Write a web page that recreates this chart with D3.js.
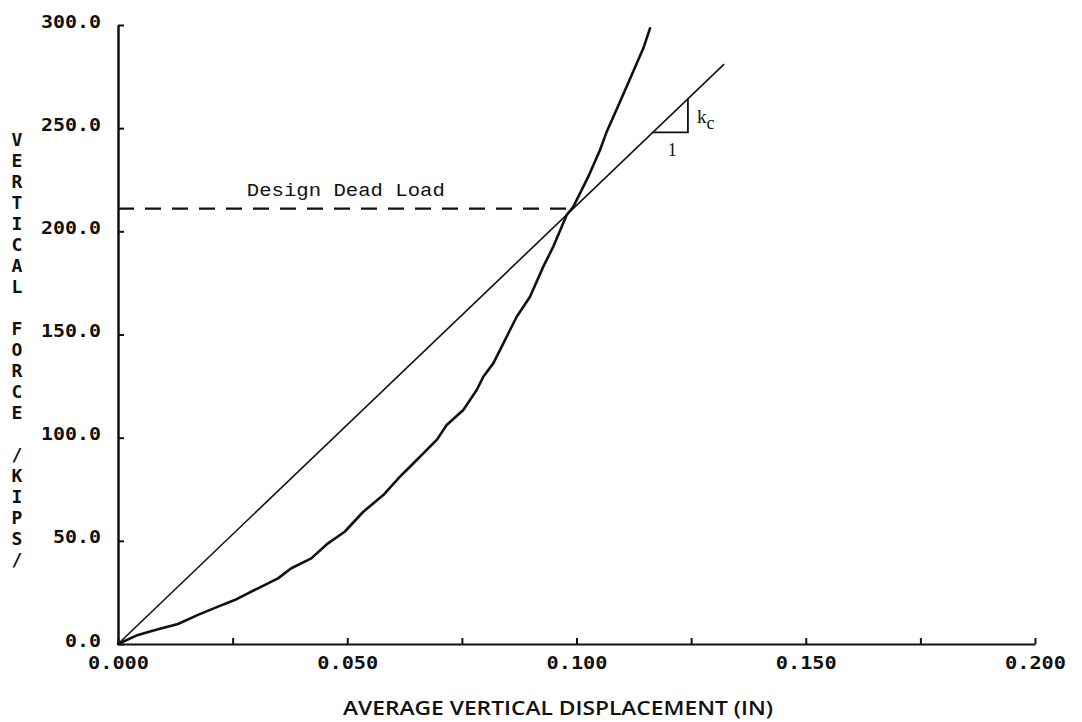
<!DOCTYPE html>
<html>
<head>
<meta charset="utf-8">
<script src="https://cdn.jsdelivr.net/npm/d3@7"></script>
<style>
  body { margin: 0; background: #fff; }
  svg { display: block; }
</style>
</head>
<body>
<script>
// gemeten waarden uit de plot (verplaatsing in inch, kracht in kips)
var dispX = [0, 0.00436, 0.00872, 0.01309, 0.01745, 0.02181, 0.02545, 0.03053, 0.03490,
             0.03780, 0.04216, 0.04580, 0.04944, 0.05350, 0.05786, 0.06150, 0.06369,
             0.06659, 0.06951, 0.07169, 0.07531, 0.07823, 0.07967, 0.08185, 0.08369,
             0.08550, 0.08696, 0.08986, 0.09276, 0.09494, 0.09677, 0.09786, 0.09930,
             0.10076, 0.10257, 0.10513, 0.10659, 0.10949, 0.11204, 0.11457, 0.11603];
var forceY = [0, 4.4, 7.1, 9.7, 14.1, 18.1, 21.3, 27.0, 31.8,
              36.7, 41.5, 48.8, 54.4, 64.1, 72.2, 81.1, 85.9,
              92.4, 98.9, 106.1, 113.4, 123.1, 129.5, 136.0, 144.1,
              152.2, 158.6, 168.3, 182.9, 192.6, 202.2, 207.9, 211.9,
              218.4, 226.5, 239.4, 248.3, 262.8, 275.8, 288.7, 298.4];

var kcX = [0, 0.1322];
var kcY = [0, 281];
var triX = [0.1165, 0.1243];
var triY = [248, 264.6];
var deadLoad = 211;
var deadLoadX = [0, 0.1];

var xTicks = [0, 0.025, 0.05, 0.075, 0.1, 0.125, 0.15, 0.175, 0.2];
var xLabels = ["0.000", "", "0.050", "", "0.100", "", "0.150", "", "0.200"];
var yTicks = [0, 50, 100, 150, 200, 250, 300];
var yLabels = ["0.0", "50.0", "100.0", "150.0", "200.0", "250.0", "300.0"];

var margin = { top: 25, right: 47, bottom: 78, left: 118 },
    width = 1082 - margin.left - margin.right,
    height = 722 - margin.top - margin.bottom;

var x = d3.scaleLinear().domain([0, 0.2]).range([0, width]);
var y = d3.scaleLinear().domain([0, 300]).range([height, 0]);

var svg = d3.select("body").append("svg")
    .attr("width", 1082)
    .attr("height", 722);

var g = svg.append("g")
    .attr("transform", "translate(" + margin.left + "," + margin.top + ")");

var tickFont = "'DejaVu Sans Mono', monospace";

// x-as
var xAxis = g.append("g")
    .attr("transform", "translate(0," + height + ")")
    .call(d3.axisBottom(x).tickValues(xTicks).tickSize(-6).tickSizeOuter(0)
        .tickFormat(function (d, i) { return xLabels[i]; }));
xAxis.select(".domain").attr("stroke", "#111").attr("stroke-width", 2.2);
xAxis.selectAll(".tick line").attr("stroke", "#111").attr("stroke-width", 2);
xAxis.selectAll(".tick text")
    .attr("y", 25).attr("dy", 0)
    .attr("font-family", tickFont)
    .attr("font-weight", "bold")
    .attr("font-size", 17)
    .attr("fill", "#111")
    .attr("textLength", function (d, i) { return xLabels[i] ? 61 : null; })
    .attr("lengthAdjust", "spacingAndGlyphs");

// y-as
var yAxis = g.append("g")
    .call(d3.axisLeft(y).tickValues(yTicks).tickSize(-6).tickSizeOuter(0)
        .tickFormat(function (d, i) { return yLabels[i]; }));
yAxis.select(".domain").attr("stroke", "#111").attr("stroke-width", 2.5);
yAxis.selectAll(".tick line").attr("stroke", "#111").attr("stroke-width", 2);
yAxis.selectAll(".tick text")
    .attr("x", -17).attr("dy", 2)
    .attr("font-family", tickFont)
    .attr("font-weight", "bold")
    .attr("font-size", 17)
    .attr("fill", "#111")
    .attr("textLength", function (d, i) { return yLabels[i].length * 12; })
    .attr("lengthAdjust", "spacingAndGlyphs");

// design dead load lijn
g.append("line")
    .attr("x1", x(deadLoadX[0])).attr("x2", x(deadLoadX[1]))
    .attr("y1", y(deadLoad)).attr("y2", y(deadLoad))
    .attr("stroke", "#111")
    .attr("stroke-width", 2.2)
    .attr("stroke-dasharray", "16,11");

g.append("text")
    .attr("x", x(0.0281))
    .attr("y", y(deadLoad) - 13)
    .attr("font-family", "'Liberation Mono', 'Courier New', monospace")
    .attr("font-size", 18)
    .attr("fill", "#111")
    .attr("textLength", 198)
    .attr("lengthAdjust", "spacingAndGlyphs")
    .text("Design Dead Load");

// rechte lijn k_c
var line = d3.line()
    .x(function (d) { return x(d[0]); })
    .y(function (d) { return y(d[1]); });

g.append("path")
    .datum(d3.zip(kcX, kcY))
    .attr("fill", "none")
    .attr("stroke", "#111")
    .attr("stroke-width", 1.6)
    .attr("d", line);

// driehoek
g.append("path")
    .datum([[triX[0], triY[0]], [triX[1], triY[0]], [triX[1], triY[1]]])
    .attr("fill", "none")
    .attr("stroke", "#111")
    .attr("stroke-width", 1.8)
    .attr("d", line);

var kc = g.append("text")
    .attr("x", x(triX[1]) + 9)
    .attr("y", y(triY[1]) + 25)
    .attr("font-family", "'Liberation Serif', serif")
    .attr("font-size", 19)
    .attr("fill", "#111");
kc.append("tspan").text("k");
kc.append("tspan").attr("dy", 6).attr("font-size", 18).text("c");

g.append("text")
    .attr("x", x(triX[0]) + 20)
    .attr("y", y(triY[0]) + 24)
    .attr("text-anchor", "middle")
    .attr("font-family", "'Liberation Serif', serif")
    .attr("font-size", 18)
    .attr("fill", "#111")
    .text("1");

// gemeten curve
g.append("path")
    .datum(d3.zip(dispX, forceY))
    .attr("fill", "none")
    .attr("stroke", "#111")
    .attr("stroke-width", 2.6)
    .attr("stroke-linejoin", "round")
    .attr("stroke-linecap", "round")
    .attr("d", line);

// as titels
svg.append("text")
    .attr("x", 558)
    .attr("y", 715)
    .attr("text-anchor", "middle")
    .attr("font-family", "'Open Sans', 'DejaVu Sans', sans-serif")
    .attr("font-weight", 600)
    .attr("font-size", 19)
    .attr("fill", "#111")
    .attr("textLength", 430)
    .attr("lengthAdjust", "spacingAndGlyphs")
    .text("AVERAGE VERTICAL DISPLACEMENT (IN)");

var yTitle = "VERTICAL FORCE /KIPS/";
svg.append("g")
    .selectAll("text")
    .data(yTitle.split(""))
    .enter().append("text")
    .attr("x", 17)
    .attr("y", function (d, i) { return 146 + i * 21; })
    .attr("text-anchor", "middle")
    .attr("font-family", tickFont)
    .attr("font-weight", "bold")
    .attr("font-size", 18)
    .attr("fill", "#111")
    .text(function (d) { return d; });
</script>
</body>
</html>
